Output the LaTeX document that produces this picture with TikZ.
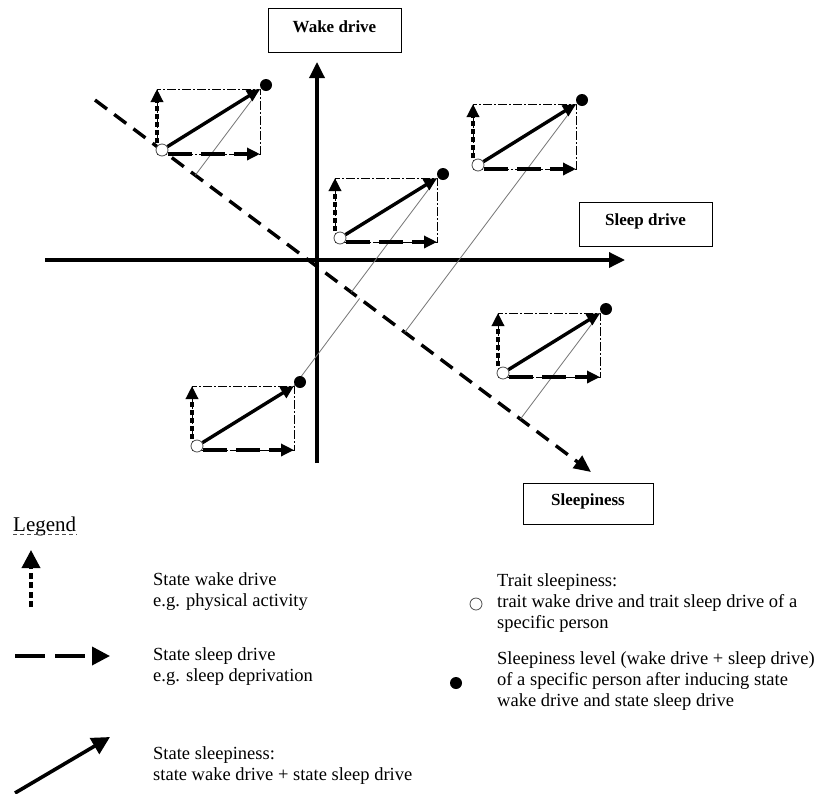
\documentclass[tikz,border=0pt]{standalone}
\usepackage{fontspec}
\setmainfont{Liberation Serif}
\usetikzlibrary{arrows.meta,calc}
\begin{document}
\begin{tikzpicture}[x=1pt,y=-1pt]
%define
\tikzstyle{label_box} = [rectangle, draw=black, line width=0.8pt, minimum width=133pt, minimum height=44pt, text height=12pt, text depth=9pt, font=\fontsize{17}{20}\selectfont\bfseries]
\tikzstyle{legend_text} = [inner sep=0pt, anchor=west, align=left, font=\fontsize{18.5}{21}\selectfont]
\tikzstyle{axis_line} = [-{Triangle[length=16pt,width=15pt]}, line width=3.4pt]
\tikzstyle{axis_dash} = [-{Triangle[length=17pt,width=15pt]}, line width=3.4pt, dash pattern=on 15pt off 9pt]
\tikzstyle{arrow} = [-{Triangle[length=13pt,width=12pt]}, line width=3.4pt]
\tikzstyle{arrowd} = [arrow, dash pattern=on 5pt off 3pt]
\tikzstyle{arrowx} = [arrow, dash pattern=on 24pt off 9pt]
\tikzstyle{legend_tip} = [-{Triangle[length=18pt,width=18pt]}, line width=3.6pt]
\tikzstyle{rect_frame} = [line width=0.7pt, dash pattern=on 9pt off 2pt on 2pt off 2pt]
\tikzstyle{proj} = [line width=0.8pt, black!55]
\tikzstyle{trait_pt} = [circle, draw=black!70, fill=white, line width=0.8pt, minimum size=12pt, inner sep=0pt]
\tikzstyle{level_pt} = [circle, fill=black, minimum size=12pt, inner sep=0pt]

\useasboundingbox (0,0) rectangle (816,793);

%label boxes
\node[label_box](box_Wake) at (334.5,30.5){Wake drive};
\node[label_box](box_Sleep) at (645.5,224){Sleep drive};
\node[label_box, minimum width=130pt, minimum height=41pt](box_Sleepiness) at (588,503.5){Sleepiness};

%axes
\coordinate (v_s) at (317,463); \coordinate (v_e) at (317,62);
\coordinate (h_s) at (45,260); \coordinate (h_e) at (625,260);
\coordinate (d_s) at (95,100); \coordinate (d_e) at (591,472);
\draw[axis_line](v_s)--(v_e); %wake drive
\draw[axis_line](h_s)--(h_e); %sleep drive
\draw[axis_dash](d_s)--(d_e); %sleepiness

%person1
\coordinate (o1) at (157,154); \coordinate (c1) at (260,89);
\draw[rect_frame](o1) rectangle (c1);
\draw[proj](c1)--($(d_s)!(c1)!(d_e)$);
\draw[arrowd]($(o1)+(0,-11)$)--(o1|-c1);
\draw[arrowx]($(o1)+(11,0)$)--(c1|-o1);
\node[trait_pt](trait1) at ($(o1)+(5,-4)$){};
\node[level_pt](level1) at ($(c1)+(6,-4)$){};
\draw[arrow](trait1)--(c1);
%person2
\coordinate (o2) at (335,242); \coordinate (c2) at (437,178);
\draw[rect_frame](o2) rectangle (c2);
\draw[proj](c2)--($(d_s)!(c2)!(d_e)$);
\draw[arrowd]($(o2)+(0,-11)$)--(o2|-c2);
\draw[arrowx]($(o2)+(11,0)$)--(c2|-o2);
\node[trait_pt](trait2) at ($(o2)+(5,-4)$){};
\node[level_pt](level2) at ($(c2)+(6,-4)$){};
\draw[arrow](trait2)--(c2);
%person3
\coordinate (o3) at (192,450); \coordinate (c3) at (294,386);
\draw[rect_frame](o3) rectangle (c3);
\draw[proj](c3)--($(d_s)!(c3)!(d_e)$);
\draw[arrowd]($(o3)+(0,-11)$)--(o3|-c3);
\draw[arrowx]($(o3)+(11,0)$)--(c3|-o3);
\node[trait_pt](trait3) at ($(o3)+(5,-4)$){};
\node[level_pt](level3) at ($(c3)+(6,-4)$){};
\draw[arrow](trait3)--(c3);
%person4
\coordinate (o4) at (498,377); \coordinate (c4) at (600,313);
\draw[rect_frame](o4) rectangle (c4);
\draw[proj](c4)--($(d_s)!(c4)!(d_e)$);
\draw[arrowd]($(o4)+(0,-11)$)--(o4|-c4);
\draw[arrowx]($(o4)+(11,0)$)--(c4|-o4);
\node[trait_pt](trait4) at ($(o4)+(5,-4)$){};
\node[level_pt](level4) at ($(c4)+(6,-4)$){};
\draw[arrow](trait4)--(c4);
%person5
\coordinate (o5) at (473,169); \coordinate (c5) at (576,104);
\draw[rect_frame](o5) rectangle (c5);
\draw[proj](c5)--($(d_s)!(c5)!(d_e)$);
\draw[arrowd]($(o5)+(0,-11)$)--(o5|-c5);
\draw[arrowx]($(o5)+(11,0)$)--(c5|-o5);
\node[trait_pt](trait5) at ($(o5)+(5,-4)$){};
\node[level_pt](level5) at ($(c5)+(6,-4)$){};
\draw[arrow](trait5)--(c5);

%legend
\node[inner sep=0pt, anchor=base west, font=\fontsize{21}{24}\selectfont](leg_title) at (13,531){Legend};
\draw[line width=0.6pt, black!70, dash pattern=on 4pt off 3pt]($(leg_title.base west)+(0,3)$)--($(leg_title.base east)+(0,3)$);

\coordinate (lw_s) at (31,607); \coordinate (lw_e) at (31,550);
\draw[arrowd, legend_tip, dash pattern=on 6pt off 3.5pt](lw_s)--(lw_e);
\node[legend_text](leg_wake) at (153,592){State wake drive\\e.g. physical activity};

\coordinate (ls_s) at (15,656); \coordinate (ls_e) at (110,656);
\draw[arrowx, legend_tip, dash pattern=on 30pt off 10pt](ls_s)--(ls_e);
\node[legend_text](leg_sleep) at (153,667){State sleep drive\\e.g. sleep deprivation};

\coordinate (lt_s) at (15,793); \coordinate (lt_e) at (110,737);
\draw[arrow, legend_tip](lt_s)--(lt_e);
\node[legend_text](leg_state) at (153,766){State sleepiness:\\state wake drive + state sleep drive};

\node[trait_pt](leg_trait_pt) at (476,604){};
\node[legend_text](leg_trait) at (497,603){Trait sleepiness:\\trait wake drive and trait sleep drive of a\\specific person};
\node[level_pt](leg_level_pt) at (456,683){};
\node[legend_text](leg_level) at (497,681){Sleepiness level (wake drive + sleep drive)\\of a specific person after inducing state\\wake drive and state sleep drive};

\end{tikzpicture}
\end{document}
